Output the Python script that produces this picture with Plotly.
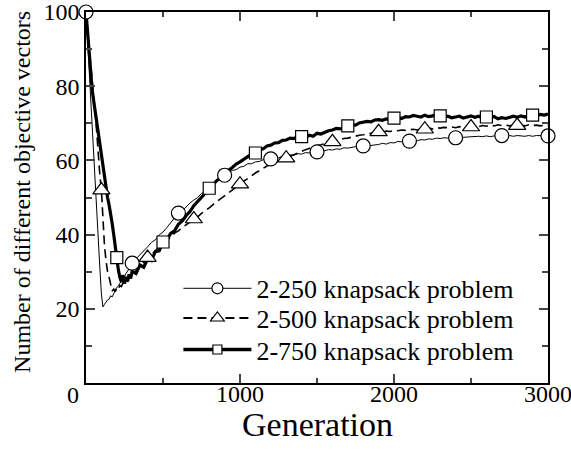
import plotly.graph_objects as go

# Generations (x values)
GEN = list(range(0, 300, 10)) + list(range(300, 3001, 25))

# 2-250 knapsack problem (thin solid line, circles)
V250 = [100, 92, 84, 76, 68, 61, 55, 47, 39, 31,
        24, 20.5, 21.2, 21.8, 22.4, 22.6, 23.5, 23.2, 24.4, 25.0,
        25.8, 26.1, 26.9, 27.4, 28.3, 28.6, 29.5, 30.0, 30.8, 31.5,
        32.3, 33.5, 34.5, 35.6, 36.7, 37.9, 38.6, 39.9, 40.7, 41.9,
        43.1, 44.6, 45.8, 46.4, 47.5, 48.5, 49.3, 50.0, 51.1, 51.7,
        52.8, 53.5, 54.5, 55.1, 56.0, 56.6, 57.3, 57.5, 58.2, 58.4,
        59.1, 59.1, 59.6, 59.7, 60.2, 60.1, 60.4, 60.7, 60.7, 61.1,
        61.0, 61.5, 61.4, 61.8, 61.7, 62.1, 62.0, 62.3, 62.3, 62.6,
        62.6, 62.9, 62.8, 63.1, 63.0, 63.4, 63.3, 63.5, 63.7, 63.6,
        63.9, 63.9, 64.0, 64.3, 64.3, 64.6, 64.4, 64.8, 64.7, 65.1,
        65.0, 65.3, 65.2, 65.4, 65.3, 65.6, 65.5, 65.8, 65.7, 66.0,
        65.9, 66.1, 66.0, 66.3, 66.1, 66.4, 66.2, 66.3, 66.4, 66.3,
        66.5, 66.4, 66.6, 66.4, 66.6, 66.5, 66.7, 66.5, 66.7, 66.5,
        66.7, 66.6, 66.5, 66.7, 66.5, 66.7, 66.6, 66.5, 66.6]

# 2-500 knapsack problem (dashed line, triangles)
V500 = [100, 95, 90, 85, 81, 77, 73, 67, 61, 56,
        52, 44, 37, 33, 30, 28.5, 26.5, 24.8, 25.3, 24.6,
        25.6, 25.2, 26.3, 26.0, 27.0, 26.6, 27.8, 27.5, 28.5, 28.4,
        29.3, 30.2, 31.4, 32.5, 33.8, 34.6, 35.8, 36.7, 37.8, 38.5,
        39.3, 40.4, 41.0, 41.9, 42.6, 43.5, 44.2, 44.8, 45.7, 46.4,
        47.2, 48.1, 48.9, 49.8, 50.6, 51.3, 52.1, 52.9, 53.6, 54.4,
        55.1, 55.9, 56.6, 57.2, 57.9, 58.5, 59.0, 59.4, 59.9, 60.3,
        60.6, 61.0, 61.5, 62.0, 62.4, 62.9, 63.3, 63.6, 64.0, 64.2,
        64.5, 64.8, 65.0, 65.3, 65.5, 65.9, 66.0, 66.3, 66.4, 66.8,
        66.9, 67.2, 67.3, 67.5, 67.7, 67.6, 67.9, 67.8, 68.1, 68.0,
        68.2, 68.1, 68.3, 68.4, 68.2, 68.5, 68.4, 68.7, 68.5, 68.8,
        68.7, 68.9, 68.8, 69.0, 68.8, 69.1, 68.9, 69.2, 69.0, 69.3,
        69.1, 69.4, 69.2, 69.5, 69.3, 69.6, 69.4, 69.5, 69.3, 69.6,
        69.4, 69.5, 69.3, 69.6, 69.4, 69.5, 69.3, 69.5, 69.4]

# 2-750 knapsack problem (thick solid line, squares)
V750 = [100, 94, 88, 83, 79, 76, 73, 70.5, 68, 65.5,
        62, 58, 55, 52, 50, 48, 46, 43, 40, 36.5,
        33.8, 30.5, 28.5, 27.2, 29.1, 26.8, 28.6, 27.4, 29.3, 28.2,
        30.1, 29.5, 31.8, 31.2, 33.5, 33.0, 35.4, 35.6, 38.0, 38.6,
        40.3, 41.0, 42.8, 43.7, 45.1, 46.2, 47.8, 48.9, 50.1, 51.2,
        52.5, 53.3, 54.6, 55.2, 56.4, 57.3, 58.1, 59.0, 59.6, 60.4,
        61.0, 61.6, 62.0, 62.8, 63.1, 63.9, 64.1, 64.7, 64.8, 65.4,
        65.5, 66.0, 65.9, 66.4, 66.4, 66.1, 66.8, 66.5, 67.3, 67.1,
        67.6, 68.0, 68.2, 68.6, 68.5, 69.0, 69.3, 69.6, 69.5, 70.1,
        70.3, 70.5, 70.4, 70.9, 71.0, 70.8, 71.2, 71.1, 71.4, 71.6,
        71.3, 71.8, 71.7, 72.1, 71.9, 71.7, 72.2, 71.8, 72.0, 72.3,
        72.0, 71.6, 71.9, 71.5, 71.7, 71.9, 71.4, 71.8, 72.0, 71.6,
        71.9, 71.5, 71.7, 71.4, 71.8, 71.2, 71.5, 71.3, 71.7, 71.9,
        71.6, 72.0, 71.7, 72.1, 72.2, 72.0, 72.4, 72.2, 72.5]

NAMES = ["2-250 knapsack problem", "2-500 knapsack problem", "2-750 knapsack problem"]
MARK_GENS = [list(range(0, 3001, 300)), list(range(100, 3001, 300)), list(range(200, 3001, 300))]
SYMBOLS = ["circle", "triangle-up", "square"]
SIZES = [14, 15, 12]
WIDTHS = [1, 1.6, 3.2]
DASHES = ["solid", "9px,5px", "solid"]
LEGENDS = ["legend", "legend2", "legend3"]
LEG_Y = [0.255, 0.175, 0.09]

FONT = "Liberation Serif"
fig = go.Figure()
for vals, w, d in zip([V250, V500, V750], WIDTHS, DASHES):
    fig.add_trace(go.Scatter(x=GEN, y=vals, mode="lines", line=dict(color="black", width=w, dash=d),
                             showlegend=False, hoverinfo="skip"))
for vals, mg, sym, sz in zip([V250, V500, V750], MARK_GENS, SYMBOLS, SIZES):
    mx = [g for g in mg if g in GEN]
    my = [vals[GEN.index(g)] for g in mx]
    fig.add_trace(go.Scatter(x=mx, y=my, mode="markers", cliponaxis=False,
                             marker=dict(symbol=sym, size=sz, color="white", line=dict(color="black", width=1.2)),
                             showlegend=False))
for name, sym, sz, w, d, lg in zip(NAMES, SYMBOLS, SIZES, WIDTHS, DASHES, LEGENDS):
    fig.add_trace(go.Scatter(x=[None], y=[None], mode="lines+markers", name=name, legend=lg,
                             line=dict(color="black", width=w + 0.4 if w > 1 else w, dash=d),
                             marker=dict(symbol=sym, size=sz - 3, color="white", line=dict(color="black", width=1.2))))

leg_common = dict(x=0.2, xanchor="left", yanchor="middle", bgcolor="rgba(0,0,0,0)",
                  font=dict(size=26, family=FONT), itemwidth=68)

fig.update_layout(
    width=571, height=454,
    margin=dict(l=86, r=23, t=12, b=71),
    paper_bgcolor="white", plot_bgcolor="white",
    font=dict(family=FONT, color="black", size=24),
    legend=dict(y=LEG_Y[0], **leg_common),
    legend2=dict(y=LEG_Y[1], **leg_common),
    legend3=dict(y=LEG_Y[2], **leg_common),
    xaxis=dict(range=[0, 3000], tickvals=[0, 1000, 2000, 3000], ticktext=["", "1000", "2000", "3000"],
               ticks="inside", ticklen=9, tickwidth=1.5, automargin=False, ticklabeloverflow="allow",
               ticklabelstandoff=-12,
               showline=True, linewidth=1.5, linecolor="black", mirror="ticks", showgrid=False, zeroline=False,
               minor=dict(dtick=500, ticks="inside", ticklen=5, tickwidth=1.5, showgrid=False),
               tickfont=dict(size=24, family=FONT)),
    yaxis=dict(range=[0, 100], tickvals=[20, 40, 60, 80, 100], ticks="inside", ticklen=9, tickwidth=1.5,
               automargin=False, ticklabeloverflow="allow",
               showline=True, linewidth=1.5, linecolor="black", mirror="ticks", showgrid=False, zeroline=False,
               minor=dict(dtick=10, ticks="inside", ticklen=6, tickwidth=1.5, showgrid=False),
               tickfont=dict(size=24, family=FONT)),
    annotations=[
        dict(text="0", x=0, y=0, xref="x", yref="paper", xanchor="center", yanchor="middle",
             xshift=-13, yshift=-12, showarrow=False, font=dict(size=24, family=FONT)),
        dict(text="Generation", x=0.5, y=0, xref="paper", yref="paper", xanchor="center", yanchor="middle",
             yshift=-41, showarrow=False, font=dict(size=34, family=FONT)),
        dict(text="Number of different objective vectors", x=0, y=0.515, xref="paper", yref="paper",
             xanchor="center", yanchor="middle", textangle=-90, xshift=-64, showarrow=False,
             font=dict(size=24, family=FONT)),
    ],
)
fig.write_html("out.html")
